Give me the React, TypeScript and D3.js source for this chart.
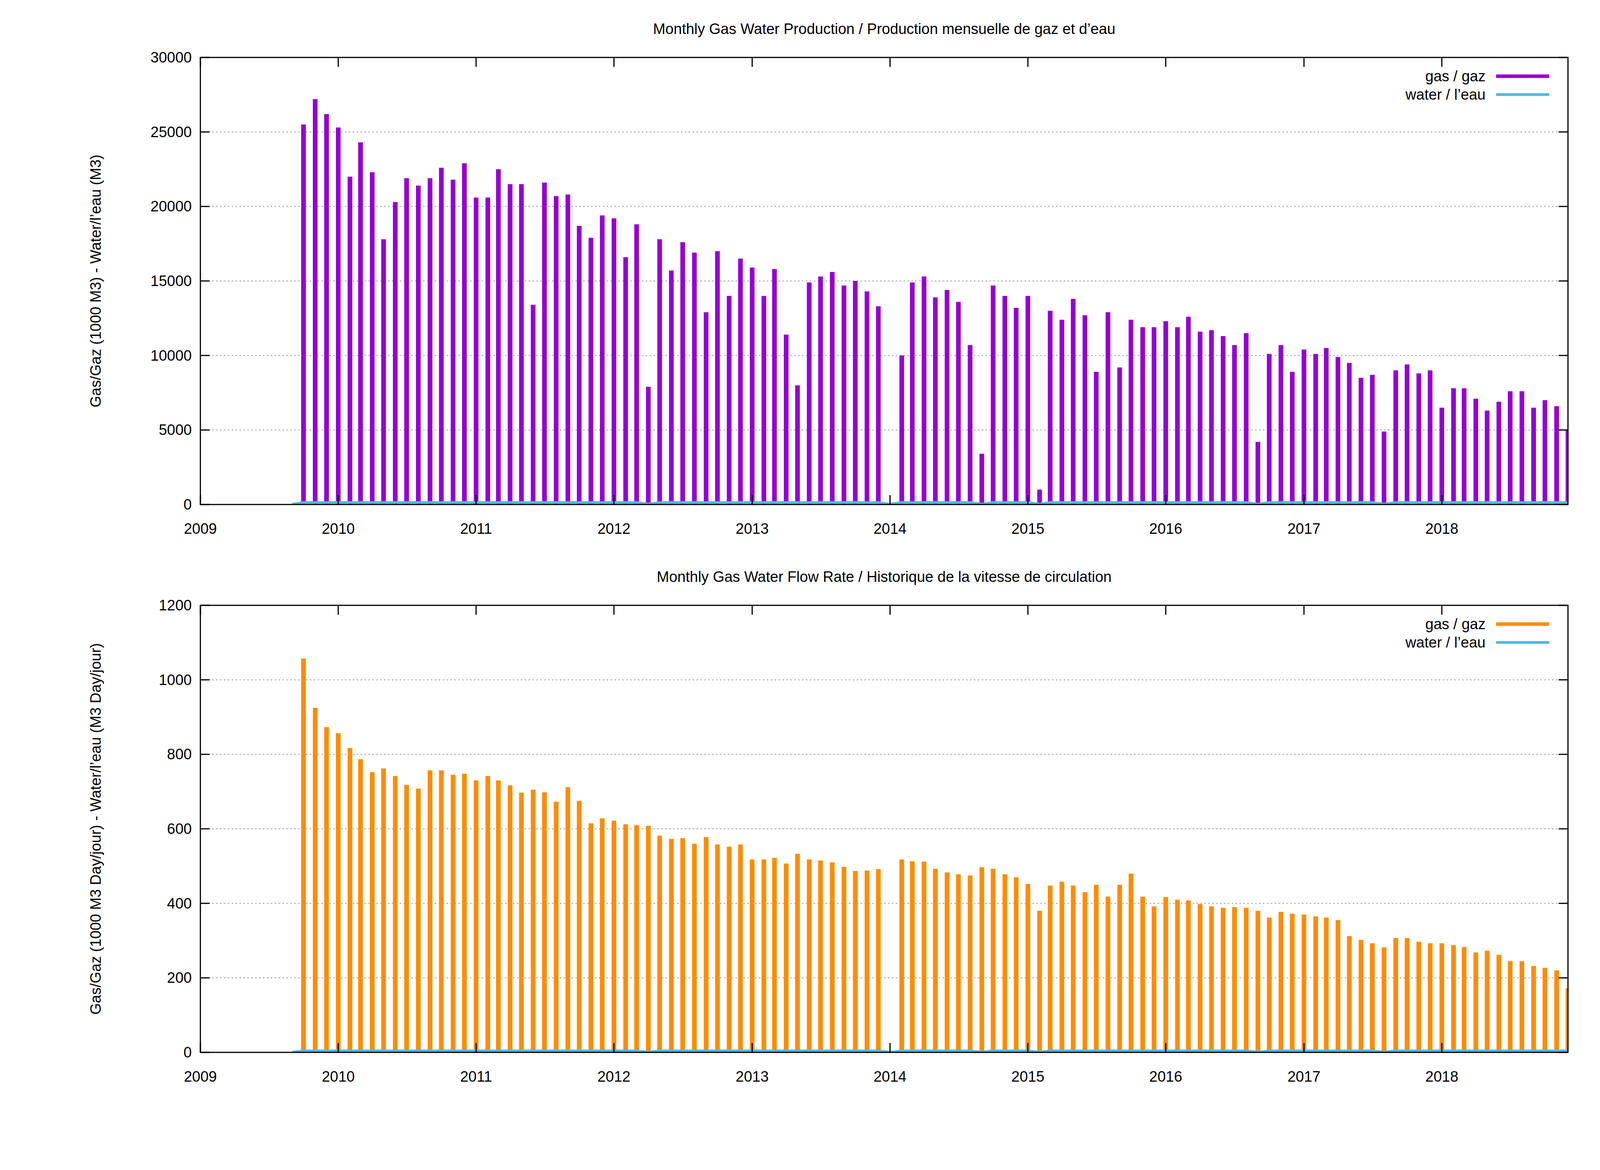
import React from "react";
import * as d3 from "d3";

const months: string[] = [];
for (let y = 2009; y <= 2018; y++) for (let m = 1; m <= 12; m++) {
  const k = y * 100 + m;
  if (k >= 200910 && k !== 201401) months.push(`${y}-${String(m).padStart(2, "0")}-01`);
}
const gasProd = [25500, 27200, 26200,
  25300, 22000, 24300, 22300, 17800, 20300, 21900, 21400, 21900, 22600, 21800, 22900,
  20600, 20600, 22500, 21500, 21500, 13400, 21600, 20700, 20800, 18700, 17900, 19400,
  19200, 16600, 18800, 7900, 17800, 15700, 17600, 16900, 12900, 17000, 14000, 16500,
  15900, 14000, 15800, 11400, 8000, 14900, 15300, 15600, 14700, 15000, 14300, 13300,
  10000, 14900, 15300, 13900, 14400, 13600, 10700, 3400, 14700, 14000, 13200,
  14000, 1000, 13000, 12400, 13800, 12700, 8900, 12900, 9200, 12400, 11900, 11900,
  12300, 11900, 12600, 11600, 11700, 11300, 10700, 11500, 4200, 10100, 10700, 8900,
  10400, 10100, 10500, 9900, 9500, 8500, 8700, 4900, 9000, 9400, 8800, 9000,
  6500, 7800, 7800, 7100, 6300, 6900, 7600, 7600, 6500, 7000, 6600, 5000];
const gasRate = [1057, 925, 873,
  857, 817, 787, 752, 762, 742, 718, 708, 757, 757, 745, 748,
  730, 742, 730, 717, 697, 705, 698, 673, 712, 675, 615, 628,
  622, 612, 610, 608, 582, 573, 575, 560, 578, 558, 552, 558,
  518, 518, 522, 507, 533, 518, 515, 510, 498, 487, 488, 492,
  518, 513, 512, 493, 483, 478, 475, 497, 493, 478, 470,
  452, 380, 448, 458, 448, 430, 450, 418, 450, 480, 418, 392,
  417, 410, 408, 398, 392, 388, 390, 388, 380, 362, 377, 372,
  370, 365, 362, 355, 312, 302, 293, 282, 307, 307, 297, 293,
  293, 288, 283, 268, 273, 262, 245, 245, 232, 227, 220, 172];
// water series as line (includes zero points at gaps)
const waterDates = ["2009-09-01", ...months.slice(0, 51), "2014-01-01", ...months.slice(51)];
const waterProd = waterDates.map((d) => (d === "2009-09-01" || d === "2014-01-01" || d === "2015-02-01" || d === "2016-09-01" || d === "2014-09-01" || d === "2017-08-01" || d === "2012-04-01" ? 20 : 130));
const waterRate = waterProd.map((v) => (v > 50 ? 4 : 0.5));
const xTicks = ["2009", "2010", "2011", "2012", "2013", "2014", "2015", "2016", "2017", "2018"];

const W = 4114, H = 2994, L = 505, R = 4006;
const FONT = "Liberation Sans, Arial, sans-serif";

function Panel(props: { top: number; bottom: number; title: string; ylabel: string; gas: number[]; water: number[]; ymax: number; step: number; color: string; id: string }) {
  const { top, bottom, title, ylabel, gas, water, ymax, step, color, id } = props;
  const x = d3.scaleTime().domain([new Date(2009, 0, 1), new Date(2018, 11, 1)]).range([L, R]);
  const y = d3.scaleLinear().domain([0, ymax]).range([bottom, top]);
  const yt = d3.range(0, ymax + 1, step);
  const line = d3.line<number>().x((_, i) => x(new Date(waterDates[i]))).y((v) => y(v));
  const tl = 24;
  return (
    <g fontFamily={FONT} fontSize={38}>
      <defs><clipPath id={id}><rect x={L} y={top} width={R - L} height={bottom - top} /></clipPath></defs>
      <text x={(L + R) / 2} y={top - 60} textAnchor="middle">{title}</text>
      {yt.slice(1).map((v) => (
        <line key={v} x1={L} x2={R} y1={y(v)} y2={y(v)} stroke="#999" strokeWidth={2} strokeDasharray="4,6" />
      ))}
      <g clipPath={`url(#${id})`}>
        {gas.map((v, i) => {
          const xx = x(new Date(months[i]));
          return <line key={i} x1={xx} x2={xx} y1={y(0)} y2={y(v)} stroke={color} strokeWidth={12} />;
        })}
        <path d={line(water) || ""} fill="none" stroke="#56b4e9" strokeWidth={7} />
      </g>
      <rect x={L} y={top} width={R - L} height={bottom - top} fill="none" stroke="black" strokeWidth={3} />
      {yt.map((v) => (
        <g key={v}>
          <line x1={L} x2={L + tl} y1={y(v)} y2={y(v)} stroke="black" strokeWidth={3} />
          <line x1={R} x2={R - tl} y1={y(v)} y2={y(v)} stroke="black" strokeWidth={3} />
          <text x={L - 22} y={y(v) + 13} textAnchor="end">{v}</text>
        </g>
      ))}
      {xTicks.map((t) => {
        const xx = x(new Date(+t, 0, 1));
        return (
          <g key={t}>
            <line x1={xx} x2={xx} y1={bottom} y2={bottom - tl} stroke="black" strokeWidth={3} />
            <line x1={xx} x2={xx} y1={top} y2={top + tl} stroke="black" strokeWidth={3} />
            <text x={xx} y={bottom + 75} textAnchor="middle">{t}</text>
          </g>
        );
      })}
      <text transform={`translate(250,${(top + bottom) / 2}) rotate(-90)`} textAnchor="middle">{ylabel}</text>
      <text x={3795} y={top + 61} textAnchor="end">gas / gaz</text>
      <line x1={3822} x2={3958} y1={top + 48} y2={top + 48} stroke={color} strokeWidth={9} />
      <text x={3795} y={top + 108} textAnchor="end">water / l’eau</text>
      <line x1={3822} x2={3958} y1={top + 95} y2={top + 95} stroke="#56b4e9" strokeWidth={7} />
    </g>
  );
}

export default function App() {
  return (
    <svg width={W} height={H} style={{ display: "block", background: "white" }}>
      <rect width={W} height={H} fill="white" />
      <Panel id="c1" top={139} bottom={1283} title="Monthly Gas  Water Production / Production mensuelle de gaz et d’eau"
        ylabel="Gas/Gaz (1000 M3) - Water/l’eau (M3)" gas={gasProd} water={waterProd} ymax={30000} step={5000} color="#9400d3" />
      <Panel id="c2" top={1541} bottom={2685} title="Monthly Gas  Water Flow Rate / Historique de la vitesse de circulation"
        ylabel="Gas/Gaz (1000 M3 Day/jour) - Water/l’eau (M3 Day/jour)" gas={gasRate} water={waterRate} ymax={1200} step={200} color="#ff8c00" />
    </svg>
  );
}
